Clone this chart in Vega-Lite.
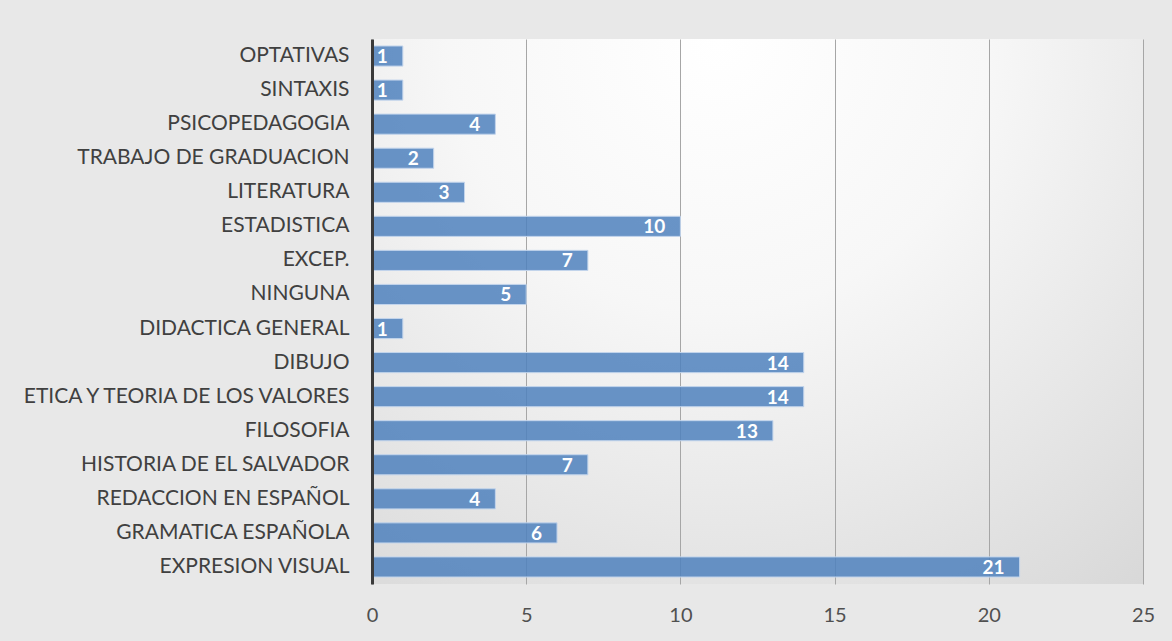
{
  "$schema": "https://vega.github.io/schema/vega-lite/v6.json",
  "width": 771,
  "height": 545,
  "autosize": {"type": "none"},
  "padding": {"left": 372, "top": 39, "right": 29, "bottom": 57},
  "background": "#e8e8e8",
  "config": {
    "font": "Lato",
    "view": {
      "stroke": null,
      "fill": {
        "gradient": "radial",
        "x1": 0.45, "y1": 0.15, "r1": 0,
        "x2": 0.45, "y2": 0.15, "r2": 1.0,
        "stops": [
          {"offset": 0, "color": "#ffffff"},
          {"offset": 0.35, "color": "#f7f7f7"},
          {"offset": 1, "color": "#d2d2d2"}
        ]
      }
    }
  },
  "data": {
    "values": [
      {"materia": "OPTATIVAS", "n": 1},
      {"materia": "SINTAXIS", "n": 1},
      {"materia": "PSICOPEDAGOGIA", "n": 4},
      {"materia": "TRABAJO DE GRADUACION", "n": 2},
      {"materia": "LITERATURA", "n": 3},
      {"materia": "ESTADISTICA", "n": 10},
      {"materia": "EXCEP.", "n": 7},
      {"materia": "NINGUNA", "n": 5},
      {"materia": "DIDACTICA GENERAL ", "n": 1},
      {"materia": "DIBUJO", "n": 14},
      {"materia": "ETICA Y TEORIA DE LOS VALORES ", "n": 14},
      {"materia": "FILOSOFIA ", "n": 13},
      {"materia": "HISTORIA DE EL SALVADOR ", "n": 7},
      {"materia": "REDACCION EN ESPAÑOL", "n": 4},
      {"materia": "GRAMATICA ESPAÑOLA", "n": 6},
      {"materia": "EXPRESION VISUAL", "n": 21}
    ]
  },
  "encoding": {
    "y": {
      "field": "materia",
      "type": "nominal",
      "sort": null,
      "scale": {"paddingInner": 0.41, "paddingOuter": 0.205},
      "axis": {
        "title": null,
        "ticks": false,
        "domain": true,
        "domainColor": "#3a3a3a",
        "domainWidth": 3,
        "zindex": 1,
        "labelFont": "Lato",
        "labelFontSize": 21,
        "labelColor": "#404040",
        "labelPadding": 23,
        "labelLimit": 0
      }
    }
  },
  "layer": [
    {
      "mark": {
        "type": "bar",
        "fill": "#4f81bd",
        "fillOpacity": 0.85,
        "stroke": "#c3d5ec",
        "strokeWidth": 1
      },
      "encoding": {
        "x": {
          "field": "n",
          "type": "quantitative",
          "scale": {"domain": [0, 25], "nice": false},
          "axis": {
            "title": null,
            "values": [0, 5, 10, 15, 20, 25],
            "grid": true,
            "gridColor": "#a6a6a6",
            "gridWidth": 1,
            "domain": false,
            "ticks": false,
            "labelFlush": false,
            "labelFont": "Lato",
            "labelFontSize": 20,
            "labelColor": "#505050",
            "labelPadding": 21
          }
        }
      }
    },
    {
      "mark": {
        "type": "text",
        "align": "right",
        "baseline": "middle",
        "dx": -15,
        "dy": 1,
        "color": "#ffffff",
        "fontWeight": "bold",
        "fontSize": 19,
        "font": "Lato"
      },
      "encoding": {
        "x": {"field": "n", "type": "quantitative"},
        "text": {"field": "n", "type": "quantitative"}
      }
    }
  ]
}
